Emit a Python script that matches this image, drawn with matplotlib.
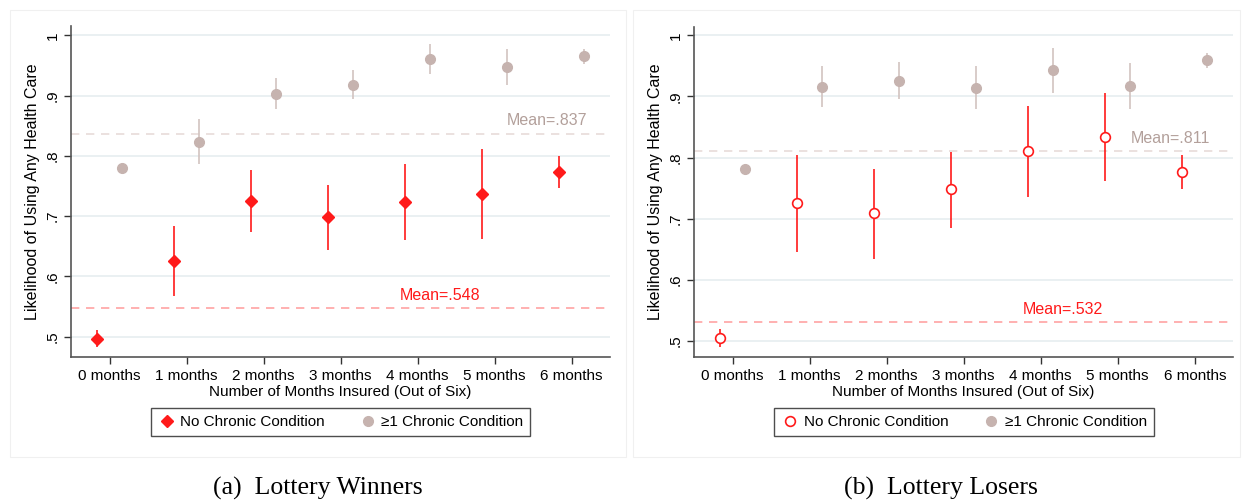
import numpy as np
import matplotlib.pyplot as plt
from matplotlib.patches import Rectangle
from matplotlib.lines import Line2D

months = ['0 months', '1 months', '2 months', '3 months', '4 months', '5 months', '6 months']

# Lottery winners
win_none = [0.496, 0.626, 0.725, 0.698, 0.724, 0.737, 0.773]
win_none_lo = [0.482, 0.568, 0.673, 0.644, 0.661, 0.662, 0.747]
win_none_hi = [0.510, 0.684, 0.777, 0.751, 0.787, 0.811, 0.799]
win_chr = [0.780, 0.823, 0.903, 0.918, 0.961, 0.948, 0.966]
win_chr_lo = [0.772, 0.787, 0.877, 0.894, 0.936, 0.918, 0.953]
win_chr_hi = [0.786, 0.861, 0.930, 0.942, 0.985, 0.978, 0.978]
win_means = [0.548, 0.837]

# Lottery losers
los_none = [0.505, 0.725, 0.709, 0.748, 0.811, 0.834, 0.777]
los_none_lo = [0.490, 0.645, 0.635, 0.685, 0.736, 0.762, 0.749]
los_none_hi = [0.519, 0.804, 0.782, 0.809, 0.885, 0.905, 0.805]
los_chr = [0.781, 0.916, 0.926, 0.913, 0.943, 0.917, 0.959]
los_chr_lo = [0.775, 0.883, 0.895, 0.879, 0.906, 0.879, 0.947]
los_chr_hi = [0.788, 0.949, 0.957, 0.949, 0.979, 0.955, 0.971]
los_means = [0.532, 0.811]

RED = '#ff1a1a'
GREY = '#c6b3af'
GREY_TXT = '#b3a09b'

plt.rcParams['font.family'] = ['Liberation Sans', 'DejaVu Sans']

fig = plt.figure(figsize=(12.47, 5.03), dpi=100)

# faint panel frames
for x0, x1 in [(10, 625.7), (633.3, 1240)]:
    fig.patches.append(Rectangle((x0 / 1247, 1 - 457 / 503), (x1 - x0) / 1247, (457 - 10) / 503,
                                 transform=fig.transFigure, fill=False, edgecolor='#f0f0f0', lw=0.8))

ax1 = fig.add_axes([71 / 1247, 1 - 357 / 503, (610 - 71) / 1247, (357 - 26) / 503])
ax2 = fig.add_axes([694 / 1247, 1 - 357 / 503, (1233.3 - 694) / 1247, (357 - 26.7) / 503])


def draw(ax, none, nlo, nhi, chrn, clo, chi, means, hollow, ylim, caption, cx, capx):
    x = np.arange(len(months))
    off = 0.165
    ax.vlines(x - off, nlo, nhi, color=RED, lw=1.2, zorder=3)
    ax.vlines(x + off, clo, chi, color='#d2c3c0', lw=1.2, zorder=3)
    if hollow:
        ax.plot(x - off, none, 'o', ms=7, mfc='white', mec=RED, mew=1.2, ls='none', zorder=4)
        h1 = Line2D([], [], marker='o', ms=7, mfc='white', mec=RED, mew=1.2, ls='none')
    else:
        ax.plot(x - off, none, 'D', ms=6.5, color=RED, ls='none', zorder=4)
        h1 = Line2D([], [], marker='D', ms=6.5, color=RED, ls='none')
    ax.plot(x + off, chrn, 'o', ms=7, color=GREY, ls='none', zorder=4)
    h2 = Line2D([], [], marker='o', ms=7, color=GREY, ls='none')

    ax.axhline(means[0], color='#ffa3a3', lw=1.2, ls=(0, (5, 4)), zorder=2)
    ax.axhline(means[1], color='#e8dcd9', lw=1.2, ls=(0, (5, 4)), zorder=2)
    ax.text(4.29, means[0] + 0.02, 'Mean=' + f'{means[0]:.3f}'[1:], color=RED,
            fontsize=11.5, ha='center', va='center')
    ax.text(5.685, means[1] + 0.021, 'Mean=' + f'{means[1]:.3f}'[1:], color=GREY_TXT,
            fontsize=11.5, ha='center', va='center')

    ax.set_xlim(-0.5, 6.5)
    ax.set_ylim(*ylim)
    ticks = [0.5, 0.6, 0.7, 0.8, 0.9, 1.0]
    ax.set_yticks(ticks)
    ax.set_yticklabels(['.5', '.6', '.7', '.8', '.9', '1'], rotation=90, va='center')
    ax.set_xticks(x)
    ax.set_xticklabels(months)
    ax.tick_params(axis='both', labelsize=11, color='#333333', length=5, width=1.0)
    ax.tick_params(axis='y', pad=3)
    ax.tick_params(axis='x', pad=4)
    ax.grid(axis='y', color='#e6eef0', lw=1.2, zorder=0)
    for s in ['top', 'right']:
        ax.spines[s].set_visible(False)
    for s in ['left', 'bottom']:
        ax.spines[s].set_color('#555555')
        ax.spines[s].set_linewidth(1.2)
    ax.set_ylabel('Likelihood of Using Any Health Care', fontsize=11.5, labelpad=4)
    ax.set_xlabel('Number of Months Insured (Out of Six)', fontsize=11, labelpad=1)
    leg = fig.legend([h1, h2], ['No Chronic Condition', '\u22651 Chronic Condition'],
                     loc='center', bbox_to_anchor=(cx, 1 - 422 / 503), ncol=2, fontsize=11,
                     frameon=True, fancybox=False, handletextpad=0.3, columnspacing=2.2,
                     borderpad=0.45, handlelength=1.2)
    leg.get_frame().set_edgecolor('#222222')
    leg.get_frame().set_linewidth(1.0)
    fig.text(capx, 1 - 488 / 503, caption, fontsize=18.5, ha='center', va='center',
             family=['Liberation Serif', 'DejaVu Serif'])


draw(ax1, win_none, win_none_lo, win_none_hi, win_chr, win_chr_lo, win_chr_hi, win_means,
     False, (0.466, 1.0155), '(a)  Lottery Winners', 340.5 / 1247, 318 / 1247)
draw(ax2, los_none, los_none_lo, los_none_hi, los_chr, los_chr_lo, los_chr_hi, los_means,
     True, (0.474, 1.014), '(b)  Lottery Losers', 964 / 1247, 941 / 1247)

fig.savefig('out.png', dpi=100)
